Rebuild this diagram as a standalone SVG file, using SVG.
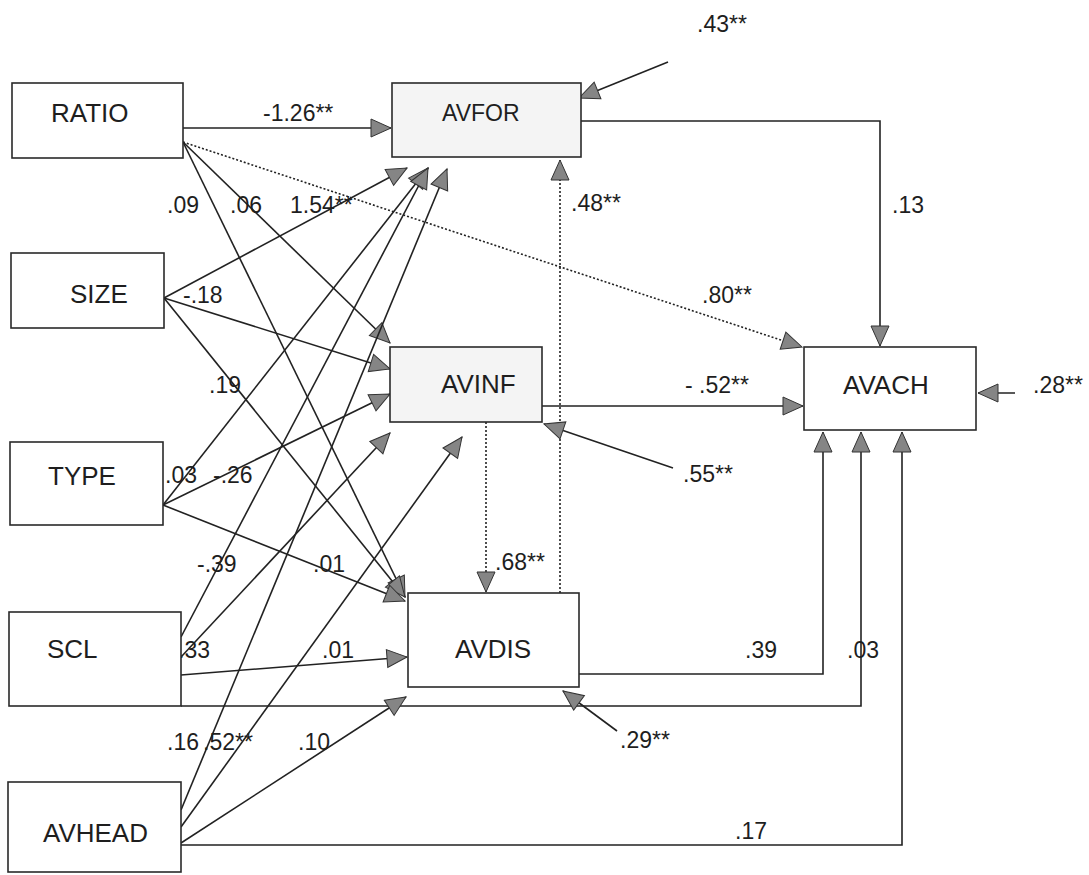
<svg xmlns="http://www.w3.org/2000/svg" width="1089" height="875" viewBox="0 0 1089 875">
<style>
.box{fill:#ffffff;stroke:#2a2a2a;stroke-width:1.6}
.boxg{fill:#f4f4f4;stroke:#2a2a2a;stroke-width:1.6}
.nt{font-family:"Liberation Sans",Arial,sans-serif;font-size:26px;fill:#1e1e1e}
.lb{font-family:"Liberation Sans",Arial,sans-serif;font-size:23px;fill:#1e1e1e}
.c{fill:none;stroke:#222;stroke-width:1.6;marker-end:url(#ah)}
.d{fill:none;stroke:#222;stroke-width:1.6;stroke-dasharray:2 2;marker-end:url(#ah)}
</style>
<defs>
<marker id="ah" markerUnits="userSpaceOnUse" markerWidth="24" markerHeight="22" refX="20" refY="9" orient="auto" overflow="visible">
<path d="M0,0 L20,9 L0,18 z" fill="#858585" stroke="#333" stroke-width="1"/>
</marker>
</defs>
<rect width="1089" height="875" fill="#ffffff"/>

<g id="connectors">
<path class="c" d="M183,128 L391,128"/>
<path class="d" d="M183,142 L802,347"/>
<path class="c" d="M183,142 L390,343"/>
<path class="c" d="M183,142 L405,597"/>
<path class="c" d="M164,298 L407,168"/>
<path class="c" d="M164,298 L390,369"/>
<path class="c" d="M164,298 L405,597"/>
<path class="c" d="M163,505 L428,168"/>
<path class="c" d="M163,505 L390,394"/>
<path class="c" d="M163,505 L405,601"/>
<path class="c" d="M181,637 L428,168"/>
<path class="c" d="M181,657 L390,433"/>
<path class="c" d="M181,675 L407,657"/>
<path class="c" d="M181,706 L861,706 L861,432"/>
<path class="c" d="M181,810 L447,169"/>
<path class="c" d="M181,827 L462,437"/>
<path class="c" d="M181,843 L406,697"/>
<path class="c" d="M181,845 L902,845 L902,432"/>
<path class="c" d="M581,121 L880,121 L880,346"/>
<path class="c" d="M542,406 L803,406"/>
<path class="c" d="M579,674 L823,674 L823,432"/>
<path class="d" d="M486,422 L486,592"/>
<path class="d" d="M560,593 L560,160"/>
<path class="c" d="M668,62 L579,98"/>
<path class="c" d="M673,468 L544,424"/>
<path class="c" d="M617,731 L563,691"/>
<path class="c" d="M1015,393 L978,393"/>
</g>

<g id="labels">
<text class="lb" x="263" y="121">-1.26**</text>
<text class="lb" x="697" y="32">.43**</text>
<text class="lb" x="167" y="213">.09</text>
<text class="lb" x="230" y="213">.06</text>
<text class="lb" x="290" y="213">1.54**</text>
<text class="lb" x="571" y="211">.48**</text>
<text class="lb" x="892" y="213">.13</text>
<text class="lb" x="183" y="303">-.18</text>
<text class="lb" x="702" y="303">.80**</text>
<text class="lb" x="209" y="393">.19</text>
<text class="lb" x="685" y="393">- .52**</text>
<text class="lb" x="1033" y="393">.28**</text>
<text class="lb" x="165" y="483">.03</text>
<text class="lb" x="213" y="483">-.26</text>
<text class="lb" x="683" y="482">.55**</text>
<text class="lb" x="197" y="572">-.39</text>
<text class="lb" x="313" y="572">.01</text>
<text class="lb" x="495" y="570">.68**</text>
<text class="lb" x="178" y="658">.33</text>
<text class="lb" x="322" y="658">.01</text>
<text class="lb" x="745" y="658">.39</text>
<text class="lb" x="847" y="658">.03</text>
<text class="lb" x="167" y="750">.16</text>
<text class="lb" x="203" y="750">.52**</text>
<text class="lb" x="298" y="750">.10</text>
<text class="lb" x="620" y="748">.29**</text>
<text class="lb" x="735" y="839">.17</text>
</g>

<g id="RATIO"><rect class="box" x="12" y="83" width="171" height="75"/><text class="nt" x="51" y="122">RATIO</text></g>
<g id="SIZE"><rect class="box" x="11" y="253" width="153" height="75"/><text class="nt" x="70" y="303">SIZE</text></g>
<g id="TYPE"><rect class="box" x="10" y="442" width="153" height="83"/><text class="nt" x="48" y="485">TYPE</text></g>
<g id="SCL"><rect class="box" x="9" y="612" width="172" height="94"/><text class="nt" x="47" y="658">SCL</text></g>
<g id="AVHEAD"><rect class="box" x="8" y="782" width="173" height="90"/><text class="nt" x="43" y="842">AVHEAD</text></g>
<g id="AVFOR"><rect class="boxg" x="392" y="83" width="189" height="74"/><text class="nt" x="442" y="121" style="font-size:23px">AVFOR</text></g>
<g id="AVINF"><rect class="boxg" x="390" y="347" width="152" height="75"/><text class="nt" x="441" y="393">AVINF</text></g>
<g id="AVDIS"><rect class="box" x="408" y="593" width="171" height="94"/><text class="nt" x="455" y="658">AVDIS</text></g>
<g id="AVACH"><rect class="box" x="804" y="347" width="172" height="83"/><text class="nt" x="843" y="394">AVACH</text></g>
</svg>
